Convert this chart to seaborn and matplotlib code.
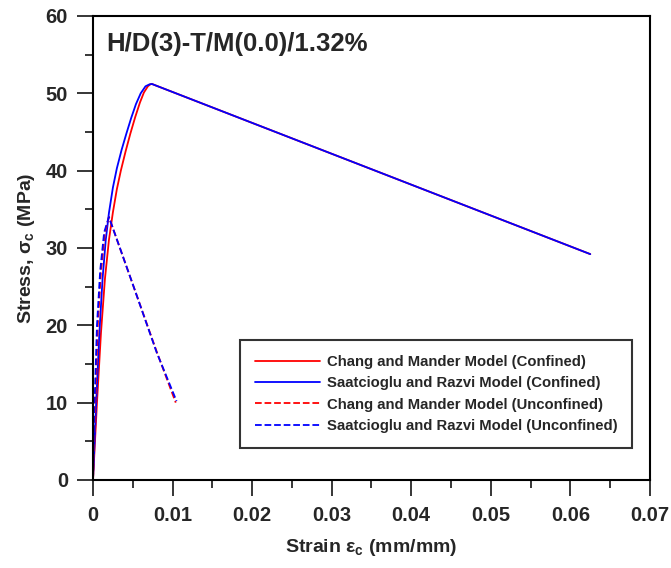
import matplotlib
matplotlib.use("Agg")
import matplotlib.pyplot as plt
from matplotlib.ticker import MultipleLocator, FuncFormatter
import pandas as pd
import seaborn as sns

# Chang and Mander (confined)
cm_conf_strain = [0, 0.0005, 0.0010, 0.0015, 0.0020, 0.0025, 0.0030, 0.0035, 0.0041, 0.0047,
                  0.0053, 0.0059, 0.0064, 0.0069, 0.0072, 0.0074, 0.0625]
cm_conf_stress = [0, 10, 19, 26, 31, 34.6, 37.6, 40.0, 42.5, 44.8,
                  46.9, 48.8, 50.1, 50.9, 51.15, 51.2, 29.2]

# Saatcioglu and Razvi (confined)
sr_conf_strain = [0, 0.0004, 0.0008, 0.0012, 0.0016, 0.0020, 0.0025, 0.0030, 0.0036, 0.0042,
                  0.0048, 0.0054, 0.0060, 0.0066, 0.0071, 0.0074, 0.0625]
sr_conf_stress = [0, 10, 19, 26, 31, 34.5, 37.8, 40.3, 42.7, 44.8,
                  46.8, 48.6, 50.0, 50.9, 51.15, 51.2, 29.2]

# Chang and Mander (unconfined)
cm_unc_strain = [0, 0.0003, 0.0006, 0.0010, 0.0015, 0.0020, 0.0050, 0.0080, 0.0104]
cm_unc_stress = [0, 10, 20, 27, 32, 34.0, 25.3, 16.6, 10.0]

# Saatcioglu and Razvi (unconfined)
sr_unc_strain = [0, 0.0002, 0.0005, 0.0009, 0.0014, 0.0020, 0.0050, 0.0080, 0.0105]
sr_unc_stress = [0, 10, 20, 27, 32, 34.0, 25.3, 16.5, 10.2]

labels = ["Chang and Mander Model (Confined)",
          "Saatcioglu and Razvi Model (Confined)",
          "Chang and Mander Model (Unconfined)",
          "Saatcioglu and Razvi Model (Unconfined)"]

sns.set_style("ticks")
plt.rcParams["font.family"] = ["Liberation Sans", "DejaVu Sans"]
plt.rcParams["font.weight"] = "bold"
plt.rcParams["mathtext.fontset"] = "custom"
plt.rcParams["mathtext.rm"] = "Liberation Sans:bold"
plt.rcParams["mathtext.it"] = "Liberation Sans:bold"
plt.rcParams["mathtext.bf"] = "Liberation Sans:bold"

fig = plt.figure(figsize=(6.71, 5.68), dpi=100)
ax = fig.add_axes([0.1386, 0.155, 0.830, 0.817])

series = [
    (cm_conf_strain, cm_conf_stress, "red", "-"),
    (sr_conf_strain, sr_conf_stress, "blue", "-"),
    (cm_unc_strain, cm_unc_stress, "red", "--"),
    (sr_unc_strain, sr_unc_stress, "blue", "--"),
]
for (x, y, c, ls), lab in zip(series, labels):
    df = pd.DataFrame({"strain": x, "stress": y})
    sns.lineplot(data=df, x="strain", y="stress", color=c, linestyle=ls,
                 linewidth=1.3, label=lab, ax=ax, sort=False, estimator=None)

ax.set_xlim(0, 0.07)
ax.set_ylim(0, 60)
ax.xaxis.set_major_locator(MultipleLocator(0.01))
ax.xaxis.set_minor_locator(MultipleLocator(0.005))
ax.yaxis.set_major_locator(MultipleLocator(10))
ax.yaxis.set_minor_locator(MultipleLocator(5))
ax.xaxis.set_major_formatter(FuncFormatter(lambda v, p: "0" if abs(v) < 1e-9 else f"{v:.2f}"))
ax.yaxis.set_major_formatter(FuncFormatter(lambda v, p: f"{v:.0f}"))
ax.tick_params(which="major", direction="out", length=11.5, width=1.3, labelsize=14.5)
ax.tick_params(axis="x", which="major", pad=7)
ax.tick_params(axis="y", which="major", pad=6.5)
ax.tick_params(which="minor", direction="out", length=5.8, width=1.3)
for s in ax.spines.values():
    s.set_visible(True)
    s.set_linewidth(1.5)
    s.set_color("black")

ax.set_xlabel(r"Strain $\varepsilon_c$ (mm/mm)", fontsize=14, fontweight="bold", labelpad=9)
ax.set_ylabel(r"Stress, $\sigma_c$ (MPa)", fontsize=14, fontweight="bold", labelpad=6)

ax.text(0.024, 0.94, "H/D(3)-T/M(0.0)/1.32%", transform=ax.transAxes,
        fontsize=18.5, fontweight="bold", va="center", ha="left")

leg = ax.legend(loc="lower right", bbox_to_anchor=(0.968, 0.069), fontsize=10.7,
                frameon=True, fancybox=False, handlelength=4.4, borderpad=1.0,
                labelspacing=0.5, handletextpad=0.45, borderaxespad=0)
leg.get_frame().set_edgecolor("black")
leg.get_frame().set_linewidth(1.5)
for t in leg.get_texts():
    t.set_fontweight("bold")

fig.savefig("out.png", dpi=100)
